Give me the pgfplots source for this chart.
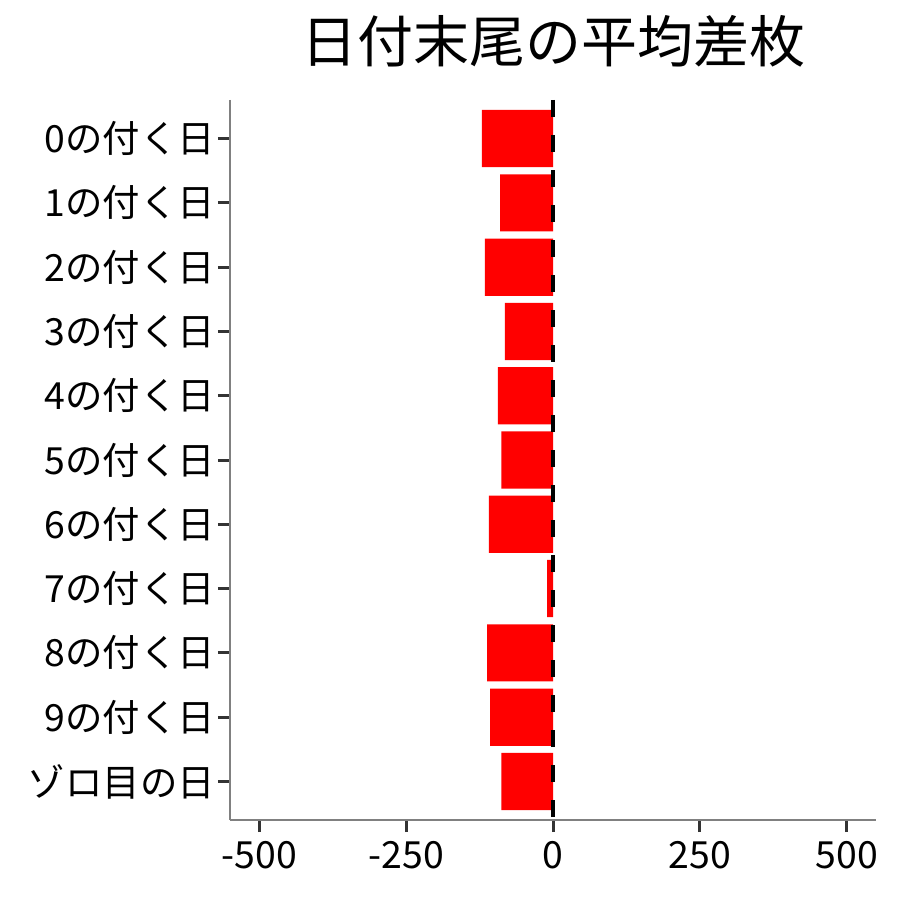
\documentclass[border=0pt]{standalone}
\usepackage{fontspec}
\setmainfont{Noto Sans CJK JP}
\usepackage{pgfplots}
\pgfplotsset{compat=1.18}
\begin{document}
\begin{tikzpicture}
\useasboundingbox (0,0) rectangle (450pt,450pt);
\begin{axis}[
    at={(115pt,40pt)}, anchor=south west,
    scale only axis,
    width=323pt, height=360pt,
    xmin=-550, xmax=550,
    ymin=-0.6, ymax=10.6,
    y dir=reverse,
    axis x line*=bottom, axis y line*=left,
    axis line style={gray, line width=0.6pt, -},
    xtick={-500,-250,0,250,500},
    xticklabels={-500,-250,0,250,500},
    ytick={0,...,10},
    yticklabels={0の付く日,1の付く日,2の付く日,3の付く日,4の付く日,5の付く日,6の付く日,7の付く日,8の付く日,9の付く日,ゾロ目の日},
    tick align=outside,
    major tick length=6pt,
    tick style={black!80, line width=1.5pt},
    ticklabel style={font=\fontsize{18.7}{21}\selectfont, black},
    yticklabel style={xshift=2pt},
    xticklabel style={yshift=-1pt},
    title={日付末尾の平均差枚},
    title style={font=\fontsize{28}{32}\selectfont, at={(0.5,1)}, anchor=center, yshift=23.5pt},
    clip=false,
]
\addplot[xbar, bar width=0.89, fill=red, draw=none] coordinates {
    (-121,0) (-90,1) (-116,2) (-82,3) (-94,4) (-88,5) (-109,6) (-10,7) (-112,8) (-107,9) (-88,10)
};
\addplot[black, line width=2pt, dash pattern=on 8.5pt off 9pt] coordinates {(0,-0.6) (0,10.6)};
\end{axis}
\end{tikzpicture}
\end{document}
